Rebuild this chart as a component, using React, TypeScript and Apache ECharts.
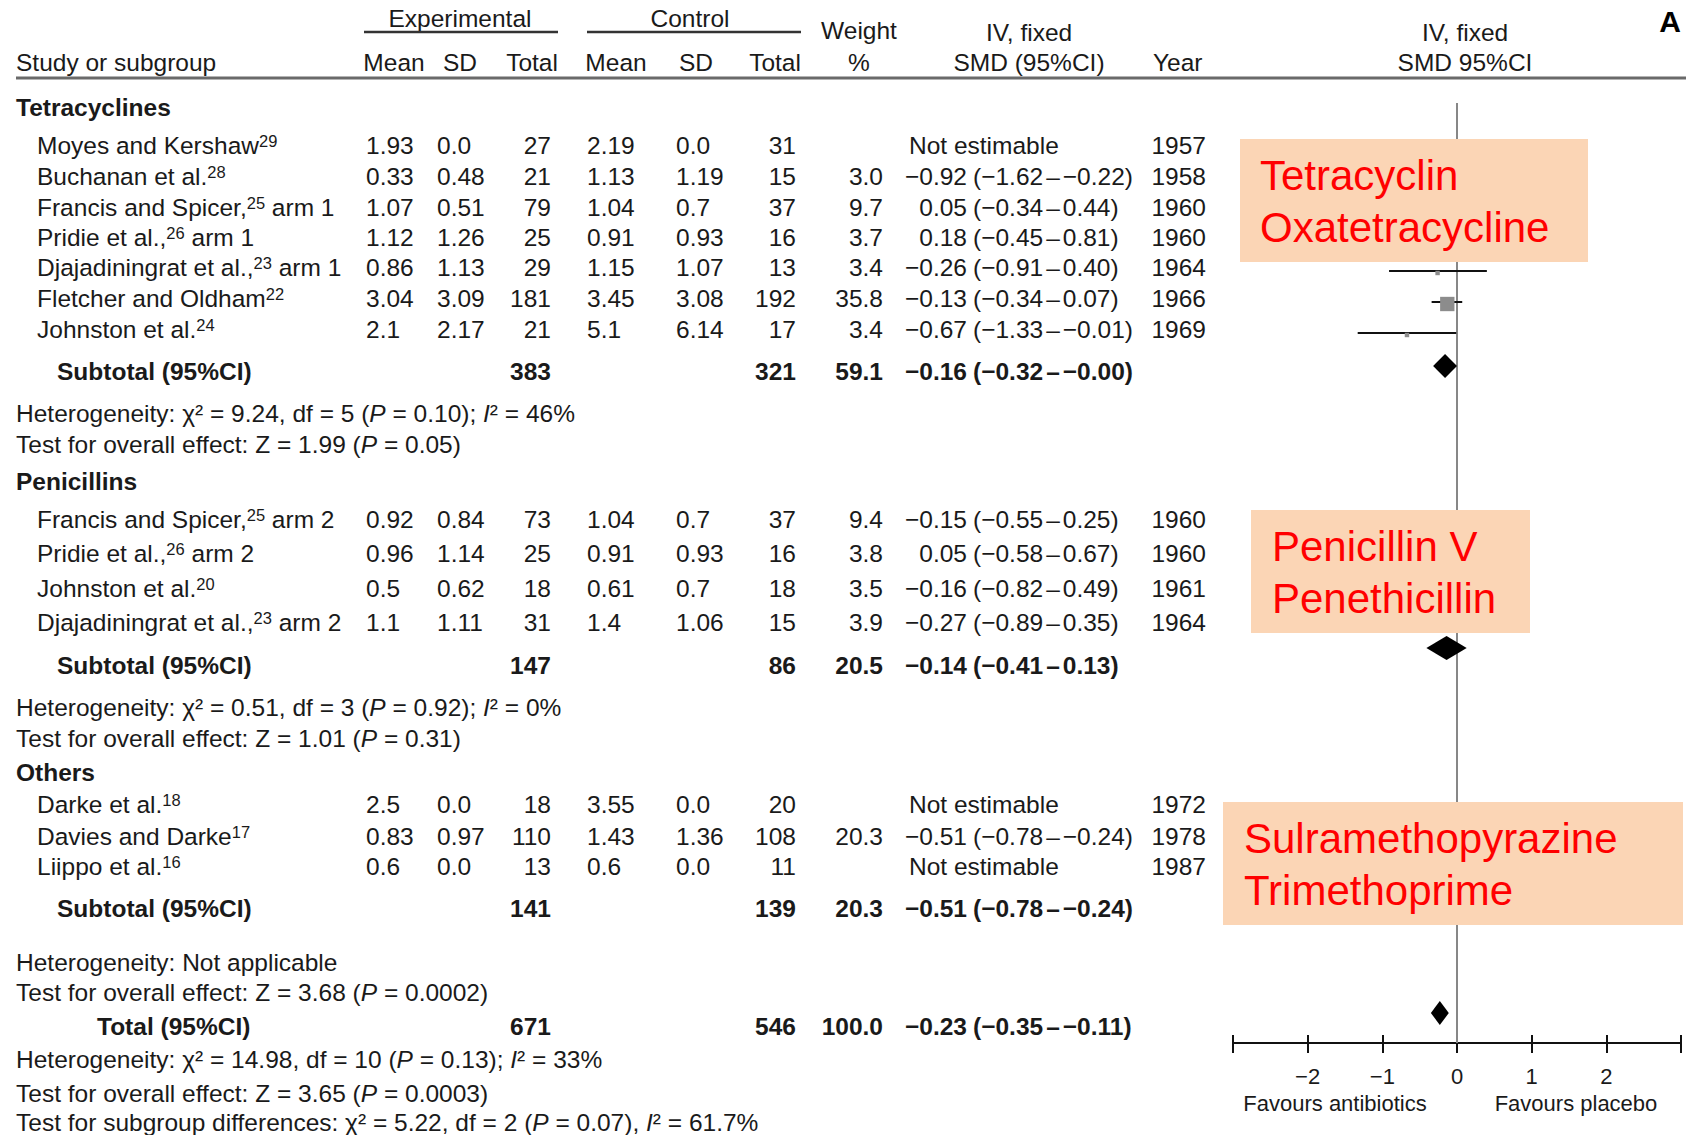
import React, { useEffect, useRef } from 'react';
import * as echarts from 'echarts';

// ---------- study-level data ----------
const groupNames = ['Tetracyclines', 'Penicillins', 'Others'];
const studyNames = [
  'Moyes and Kershaw', 'Buchanan et al.', 'Francis and Spicer,', 'Pridie et al.,',
  'Djajadiningrat et al.,', 'Fletcher and Oldham', 'Johnston et al.',
  'Francis and Spicer,', 'Pridie et al.,', 'Johnston et al.', 'Djajadiningrat et al.,',
  'Darke et al.', 'Davies and Darke', 'Liippo et al.',
];
const studyRefs = ['29', '28', '25', '26', '23', '22', '24', '25', '26', '20', '23', '18', '17', '16'];
const studyArms = ['', '', ' arm 1', ' arm 1', ' arm 1', '', '', ' arm 2', ' arm 2', '', ' arm 2', '', '', ''];
const expMean = ['1.93', '0.33', '1.07', '1.12', '0.86', '3.04', '2.1', '0.92', '0.96', '0.5', '1.1', '2.5', '0.83', '0.6'];
const expSD = ['0.0', '0.48', '0.51', '1.26', '1.13', '3.09', '2.17', '0.84', '1.14', '0.62', '1.11', '0.0', '0.97', '0.0'];
const expTotal = [27, 21, 79, 25, 29, 181, 21, 73, 25, 18, 31, 18, 110, 13];
const ctrlMean = ['2.19', '1.13', '1.04', '0.91', '1.15', '3.45', '5.1', '1.04', '0.91', '0.61', '1.4', '3.55', '1.43', '0.6'];
const ctrlSD = ['0.0', '1.19', '0.7', '0.93', '1.07', '3.08', '6.14', '0.7', '0.93', '0.7', '1.06', '0.0', '1.36', '0.0'];
const ctrlTotal = [31, 15, 37, 16, 13, 192, 17, 37, 16, 18, 15, 20, 108, 11];
const weightPct: (number | null)[] = [null, 3.0, 9.7, 3.7, 3.4, 35.8, 3.4, 9.4, 3.8, 3.5, 3.9, null, 20.3, null];
const smd: (number | null)[] = [null, -0.92, 0.05, 0.18, -0.26, -0.13, -0.67, -0.15, 0.05, -0.16, -0.27, null, -0.51, null];
const ciLow: (number | null)[] = [null, -1.62, -0.34, -0.45, -0.91, -0.34, -1.33, -0.55, -0.58, -0.82, -0.89, null, -0.78, null];
const ciHigh: (number | null)[] = [null, -0.22, 0.44, 0.81, 0.40, 0.07, -0.01, 0.25, 0.67, 0.49, 0.35, null, -0.24, null];
const years = [1957, 1958, 1960, 1960, 1964, 1966, 1969, 1960, 1960, 1961, 1964, 1972, 1978, 1987];

// ---------- pooled estimates ----------
const subtotalExp = [383, 147, 141];
const subtotalCtrl = [321, 86, 139];
const subtotalWeight = [59.1, 20.5, 20.3];
const subtotalSmd = [-0.16, -0.14, -0.51];
const subtotalLow = [-0.32, -0.41, -0.78];
const subtotalHigh = [-0.00, 0.13, -0.24];
const totalExp = 671;
const totalCtrl = 546;
const totalWeight = 100.0;
const totalSmd = -0.23;
const totalLow = -0.35;
const totalHigh = -0.11;

// ---------- heterogeneity / tests ----------
const hetChi2: (number | null)[] = [9.24, 0.51, null];
const hetDf: (number | null)[] = [5, 3, null];
const hetP: (string | null)[] = ['0.10', '0.92', null];
const hetI2: (number | null)[] = [46, 0, null];
const effectZ = [1.99, 1.01, 3.68];
const effectP = ['0.05', '0.31', '0.0002'];
const totalHet = { chi2: 14.98, df: 10, p: '0.13', i2: 33 };
const totalEffect = { z: 3.65, p: '0.0003' };
const subgroupDiff = { chi2: 5.22, df: 2, p: '0.07', i2: 61.7 };

// ---------- axis ----------
const axisMin = -3;
const axisMax = 3;
const axisStep = 1;
const favoursLabels = ['Favours antibiotics', 'Favours placebo'];

// ---------- drug-class notes ----------
const noteLines = [
  ['Tetracyclin', 'Oxatetracycline'],
  ['Penicillin V', 'Penethicillin'],
  ['Sulramethopyrazine', 'Trimethoprime'],
];

// ---------- layout ----------
const W = 1695;
const H = 1135;
const FONT = '"Liberation Sans", Arial, Helvetica, sans-serif';
const INK = '#1a1a1a';
const FS = 24.5;

const ROW_GROUP_Y = [107, 481, 772];
const ROW_STUDY_Y = [145, 176, 207, 237, 267, 298, 329, 519, 553, 588, 622, 804, 836, 866];
const ROW_SUB_Y = [371, 665, 908];
const ROW_HET_Y = [413, 707, 962];
const ROW_TEST_Y = [444, 738, 992];
const ROW_TOTAL_Y = 1026;
const ROW_TOTAL_HET_Y = 1059;
const ROW_TOTAL_TEST_Y = 1093;
const ROW_SUBGROUP_Y = 1122;
const DIAMOND_Y = [366, 648, 904];
const TOTAL_DIAMOND_Y = 1013;
const MARK_DY = 4;

const COL = {
  group: 16, name: 37, sub: 57, total: 97,
  expMean: 366, expSD: 437, expTotal: 551,
  ctrlMean: 587, ctrlSD: 676, ctrlTotal: 796,
  weight: 883, est: 967, ci: 973, noEst: 909, year: 1206,
};

const PLOT = { left: 1233, right: 1681, top: 0, axisY: 1043, zeroTop: 103 };

const NOTE_BOXES = [
  { x: 1240, y: 139, w: 348, h: 123, tx: 1260, ty: [175, 227] },
  { x: 1251, y: 510, w: 279, h: 123, tx: 1272, ty: [546, 598] },
  { x: 1223, y: 802, w: 460, h: 123, tx: 1244, ty: [838, 890] },
];

const RICH = {
  s: { fontSize: 16.5, fontFamily: FONT, fill: INK, verticalAlign: 'top', lineHeight: 14 },
  i: { fontSize: FS, fontFamily: FONT, fill: INK, fontStyle: 'italic', lineHeight: 26 },
  d: { fontSize: FS, fontFamily: FONT, fill: INK, lineHeight: 26, padding: [0, 3, 0, 3] },
  db: { fontSize: FS, fontFamily: FONT, fill: INK, fontWeight: 'bold', lineHeight: 26, padding: [0, 3, 0, 3] },
};

const fmt = (v: number) => (v < 0 || Object.is(v, -0) ? '\u2212' : '') + Math.abs(v).toFixed(2);
const ciText = (lo: number, hi: number, bold = false) =>
  `(${fmt(lo)}{${bold ? 'db' : 'd'}|\u2013}${fmt(hi)})`;
const chiText = (c: number, df: number, p: string, i2: number, sep: string) =>
  `\u03c7\u00b2 = ${c.toFixed(2)}, df = ${df} ({i|P} = ${p})${sep} {i|I}\u00b2 = ${i2}%`;

function buildOption() {
  const g: any[] = [];
  const T = (
    x: number, y: number, text: string,
    o: { align?: string; bold?: boolean; size?: number; fill?: string; z?: number } = {}
  ) => {
    g.push({
      type: 'text', x, y, z: o.z ?? 5, silent: true,
      style: {
        text, fill: o.fill || INK, fontSize: o.size || FS, fontFamily: FONT,
        fontWeight: o.bold ? 'bold' : 'normal', align: o.align || 'left',
        verticalAlign: 'middle', lineHeight: 26, rich: RICH,
      },
    });
  };
  const L = (x1: number, y1: number, x2: number, y2: number, stroke: string, lineWidth: number) => {
    g.push({ type: 'line', z: 5, silent: true, shape: { x1, y1, x2, y2 }, style: { stroke, lineWidth } });
  };

  // header
  T(460, 18, 'Experimental', { align: 'center' });
  L(364, 32, 558, 32, '#333', 2.5);
  T(690, 18, 'Control', { align: 'center' });
  L(587, 32, 801, 32, '#333', 2.5);
  T(859, 30, 'Weight', { align: 'center' });
  T(859, 62, '%', { align: 'center' });
  T(1029, 32, 'IV, fixed', { align: 'center' });
  T(1029, 62, 'SMD (95%CI)', { align: 'center' });
  T(1153, 62, 'Year');
  T(1465, 32, 'IV, fixed', { align: 'center' });
  T(1465, 62, 'SMD 95%CI', { align: 'center' });
  T(16, 62, 'Study or subgroup');
  T(394, 62, 'Mean', { align: 'center' });
  T(460, 62, 'SD', { align: 'center' });
  T(532, 62, 'Total', { align: 'center' });
  T(616, 62, 'Mean', { align: 'center' });
  T(696, 62, 'SD', { align: 'center' });
  T(775, 62, 'Total', { align: 'center' });
  T(1670, 21, 'A', { align: 'center', bold: true, size: 30, fill: '#000' });
  L(16, 78, 1686, 78, '#6a6a6a', 3);

  // groups
  groupNames.forEach((name, gi) => {
    T(COL.group, ROW_GROUP_Y[gi], name, { bold: true });
    T(COL.sub, ROW_SUB_Y[gi], 'Subtotal (95%CI)', { bold: true });
    T(COL.expTotal, ROW_SUB_Y[gi], String(subtotalExp[gi]), { align: 'right', bold: true });
    T(COL.ctrlTotal, ROW_SUB_Y[gi], String(subtotalCtrl[gi]), { align: 'right', bold: true });
    T(COL.weight, ROW_SUB_Y[gi], subtotalWeight[gi].toFixed(1), { align: 'right', bold: true });
    T(COL.est, ROW_SUB_Y[gi], fmt(subtotalSmd[gi]), { align: 'right', bold: true });
    T(COL.ci, ROW_SUB_Y[gi], ciText(subtotalLow[gi], subtotalHigh[gi], true), { bold: true });
    const c = hetChi2[gi];
    T(COL.group, ROW_HET_Y[gi],
      c == null ? 'Heterogeneity: Not applicable'
        : `Heterogeneity: ${chiText(c, hetDf[gi] as number, hetP[gi] as string, hetI2[gi] as number, ';')}`);
    T(COL.group, ROW_TEST_Y[gi], `Test for overall effect: Z = ${effectZ[gi].toFixed(2)} ({i|P} = ${effectP[gi]})`);
  });

  // studies
  studyNames.forEach((name, i) => {
    const y = ROW_STUDY_Y[i];
    T(COL.name, y, `${name}{s|${studyRefs[i]}}${studyArms[i]}`);
    T(COL.expMean, y, expMean[i]);
    T(COL.expSD, y, expSD[i]);
    T(COL.expTotal, y, String(expTotal[i]), { align: 'right' });
    T(COL.ctrlMean, y, ctrlMean[i]);
    T(COL.ctrlSD, y, ctrlSD[i]);
    T(COL.ctrlTotal, y, String(ctrlTotal[i]), { align: 'right' });
    const w = weightPct[i];
    const e = smd[i];
    if (w != null) T(COL.weight, y, w.toFixed(1), { align: 'right' });
    if (e == null) {
      T(COL.noEst, y, 'Not estimable');
    } else {
      T(COL.est, y, fmt(e), { align: 'right' });
      T(COL.ci, y, ciText(ciLow[i] as number, ciHigh[i] as number));
    }
    T(COL.year, y, String(years[i]), { align: 'right' });
  });

  // overall
  T(COL.total, ROW_TOTAL_Y, 'Total (95%CI)', { bold: true });
  T(COL.expTotal, ROW_TOTAL_Y, String(totalExp), { align: 'right', bold: true });
  T(COL.ctrlTotal, ROW_TOTAL_Y, String(totalCtrl), { align: 'right', bold: true });
  T(COL.weight, ROW_TOTAL_Y, totalWeight.toFixed(1), { align: 'right', bold: true });
  T(COL.est, ROW_TOTAL_Y, fmt(totalSmd), { align: 'right', bold: true });
  T(COL.ci, ROW_TOTAL_Y, ciText(totalLow, totalHigh, true), { bold: true });
  T(COL.group, ROW_TOTAL_HET_Y,
    `Heterogeneity: ${chiText(totalHet.chi2, totalHet.df, totalHet.p, totalHet.i2, ';')}`);
  T(COL.group, ROW_TOTAL_TEST_Y,
    `Test for overall effect: Z = ${totalEffect.z.toFixed(2)} ({i|P} = ${totalEffect.p})`);
  T(COL.group, ROW_SUBGROUP_Y,
    `Test for subgroup differences: ${chiText(subgroupDiff.chi2, subgroupDiff.df, subgroupDiff.p, subgroupDiff.i2, ',')}`);

  // favours captions under the axis
  T(1335, 1103, favoursLabels[0], { align: 'center', size: 22 });
  T(1576, 1103, favoursLabels[1], { align: 'center', size: 22 });

  // drug-class notes over the plot
  NOTE_BOXES.forEach((b, k) => {
    g.push({
      type: 'rect', z: 100, silent: true,
      shape: { x: b.x, y: b.y, width: b.w, height: b.h },
      style: { fill: '#fbd5b5' },
    });
    noteLines[k].forEach((line, j) => {
      T(b.tx, b.ty[j], line, { size: 42, fill: '#ff0000', z: 101 });
    });
  });

  // forest marks
  const studyData: number[][] = [];
  smd.forEach((e, i) => {
    if (e == null) return;
    studyData.push([e, ciLow[i] as number, ciHigh[i] as number, ROW_STUDY_Y[i] + MARK_DY, weightPct[i] as number]);
  });
  const diamondData: number[][] = subtotalSmd.map((e, gi) => [e, subtotalLow[gi], subtotalHigh[gi], DIAMOND_Y[gi]]);
  diamondData.push([totalSmd, totalLow, totalHigh, TOTAL_DIAMOND_Y]);

  const tickFmt = (v: number) =>
    Math.abs(v) === 3 ? '' : v < 0 ? '\u2212' + Math.abs(v) : String(v);

  return {
    animation: false,
    backgroundColor: '#ffffff',
    grid: {
      left: PLOT.left, width: PLOT.right - PLOT.left,
      top: PLOT.top, height: PLOT.axisY - PLOT.top, containLabel: false,
    },
    xAxis: [
      {
        type: 'value', min: axisMin, max: axisMax, interval: axisStep, position: 'bottom',
        axisLine: { show: true, onZero: false, lineStyle: { color: '#111', width: 2 } },
        axisTick: { show: true, inside: false, length: 10, lineStyle: { color: '#111', width: 2 } },
        axisLabel: { show: true, margin: 22, fontSize: 22, fontFamily: FONT, color: INK, formatter: tickFmt },
        splitLine: { show: false },
      },
      {
        type: 'value', min: axisMin, max: axisMax, interval: axisStep, position: 'bottom',
        axisLine: { show: false, onZero: false },
        axisTick: { show: true, inside: true, length: 8, lineStyle: { color: '#111', width: 2 } },
        axisLabel: { show: false },
        splitLine: { show: false },
      },
    ],
    yAxis: { type: 'value', min: PLOT.top, max: PLOT.axisY, inverse: true, show: false },
    graphic: { elements: g },
    series: [
      {
        type: 'line', name: 'no effect', xAxisIndex: 0,
        data: [[0, PLOT.zeroTop], [0, PLOT.axisY]],
        symbol: 'none', silent: true, z: 1,
        lineStyle: { color: '#878787', width: 2 },
      },
      {
        type: 'custom', name: 'studies', xAxisIndex: 0, clip: false, z: 3, silent: true,
        data: studyData,
        encode: { x: [0, 1, 2], y: 3 },
        renderItem: (_p: any, api: any) => {
          const est = api.value(0), lo = api.value(1), hi = api.value(2), y = api.value(3), w = api.value(4);
          const a = api.coord([lo, y]);
          const b = api.coord([hi, y]);
          const c = api.coord([est, y]);
          const s = Math.max(4, 2.4 * Math.sqrt(w));
          return {
            type: 'group',
            children: [
              { type: 'line', shape: { x1: a[0], y1: a[1], x2: b[0], y2: b[1] }, style: { stroke: '#111', lineWidth: 2 } },
              { type: 'rect', shape: { x: c[0] - s / 2, y: c[1] - s / 2 + 2, width: s, height: s }, style: { fill: '#8c8c8c' } },
            ],
          };
        },
      },
      {
        type: 'custom', name: 'pooled', xAxisIndex: 0, clip: false, z: 3, silent: true,
        data: diamondData,
        encode: { x: [0, 1, 2], y: 3 },
        renderItem: (_p: any, api: any) => {
          const est = api.value(0), lo = api.value(1), hi = api.value(2), y = api.value(3);
          const l = api.coord([lo, y]);
          const r = api.coord([hi, y]);
          const c = api.coord([est, y]);
          const h = 12;
          return {
            type: 'polygon',
            shape: { points: [[l[0], c[1]], [c[0], c[1] - h], [r[0], c[1]], [c[0], c[1] + h]] },
            style: { fill: '#000' },
          };
        },
      },
    ],
  };
}

export default function App() {
  const ref = useRef<HTMLDivElement>(null);
  useEffect(() => {
    if (!ref.current) return;
    const chart = echarts.init(ref.current, null, { renderer: 'svg', width: W, height: H });
    chart.setOption(buildOption() as any);
    return () => chart.dispose();
  }, []);
  return (
    <div
      ref={ref}
      style={{ position: 'fixed', left: 0, top: 0, width: W, height: H, background: '#fff' }}
    />
  );
}
